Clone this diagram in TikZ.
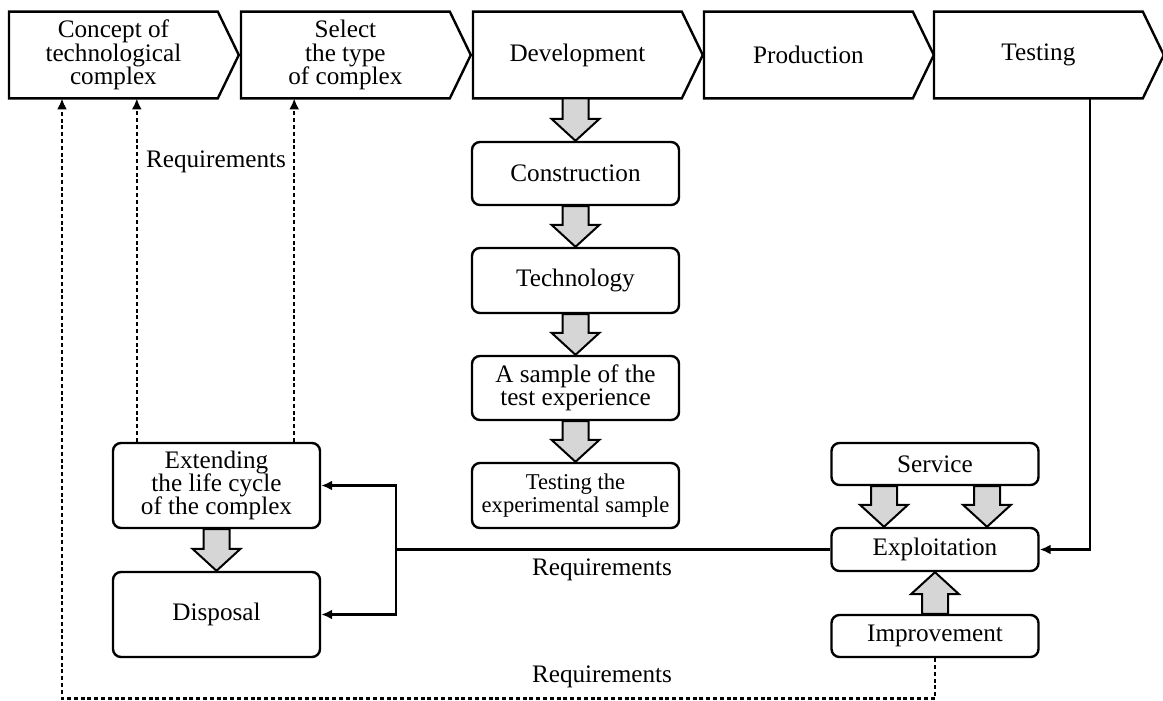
\documentclass[tikz,border=0pt]{standalone}
\usepackage{fontspec}
\setmainfont{Liberation Serif}
\usetikzlibrary{arrows.meta,calc}
\definecolor{fatgrey}{HTML}{D6D6D6}
\newcommand{\bodyfont}{\fontsize{12.6}{11.6}\selectfont}
% wide grey arrow from #1 to #2 (vertical)
\newcommand{\fatarrow}[2]{%
  \draw[fat] let \p1=(#1), \p2=(#2), \n1={ifthenelse(\y2<\y1,11,-11)} in
    (\x1-6.5pt,\y1) -- (\x1-6.5pt,\y2+\n1) -- (\x1-12pt,\y2+\n1) -- (\x1,\y2)
    -- (\x1+12pt,\y2+\n1) -- (\x1+6.5pt,\y2+\n1) -- (\x1+6.5pt,\y1) -- cycle;}

\begin{document}
\begin{tikzpicture}[x=0.5pt, y=-0.5pt, font=\bodyfont,
  stage/.style={minimum width=104pt, minimum height=43pt, inner sep=0pt, align=center},
  outline/.style={draw, line width=1.2pt, line join=miter},
  proc/.style={draw, line width=1.2pt, rounded corners=4pt, align=center,
               minimum width=103.5pt, inner sep=2pt},
  fat/.style={draw, fill=fatgrey, line width=1pt, line join=miter},
  conn/.style={-{Latex[length=5.5pt,width=5pt]}, line width=1.1pt},
  req/.style={conn, dash pattern=on 2pt off 1.4pt},
  wire/.style={line width=1.1pt},
]
\useasboundingbox (0,0) rectangle (1163,701);

% stages along the top
\foreach \nm/\lx/\txt in {c1/9/{Concept of\\technological\\complex},
                          c2/241/{Select\\the type\\of complex},
                          c3/473/Development, c4/704/Production, c5/934/Testing} {
  \node[stage, anchor=west] (\nm) at (\lx,55) {\txt};
  \draw[outline] (\nm.north west) -- (\nm.north east) -- ($(\nm.east)+(21,0)$)
    -- (\nm.south east) -- (\nm.south west) -- cycle;
}

% development chain
\node[proc, minimum height=31.5pt] (cons) at (575.5,173.5) {Construction};
\node[proc, minimum height=32.5pt] (tech) at (575.5,280.5) {Technology};
\node[proc, minimum height=32pt] (samp) at (575.5,388) {A sample of the\\test experience};
\node[proc, minimum height=32.5pt, font=\fontsize{11.3}{11.6}\selectfont] (tsamp) at (575.5,495.5)
   {Testing the\\experimental sample};

% life cycle end
\node[proc, minimum height=42.5pt] (ext) at (216.5,485.5) {Extending\\the life cycle\\of the complex};
\node[proc, minimum height=42.5pt] (disp) at (216.5,614.5) {Disposal};

% operation
\node[proc, minimum height=21pt] (serv) at (935,464) {Service};
\node[proc, minimum height=21.5pt] (expl) at (935,549.5) {Exploitation};
\node[proc, minimum height=21pt] (impr) at (935,636) {Improvement};

\fatarrow{c3.south -| cons.north}{cons.north}
\fatarrow{cons.south}{tech.north}
\fatarrow{tech.south}{samp.north}
\fatarrow{samp.south}{tsamp.north}
\fatarrow{ext.south}{disp.north}
\fatarrow{$(serv.south)+(-51,0)$}{$(expl.north)+(-51,0)$}
\fatarrow{$(serv.south)+(52,0)$}{$(expl.north)+(52,0)$}
\fatarrow{impr.north}{expl.south}

% solid feedback
\draw[conn] ($(c5.south east)+(-53,0)$) |- (expl.east);
\coordinate (split) at (396,549.5);
\draw[wire] (expl.west) -- (split);
\draw[conn] (split) |- (ext.east);
\draw[conn] (split) |- (disp.east);
\node (req1) at (602,570) {Requirements};

% dotted requirements
\coordinate (q1) at ($(ext.north west)+(25,0)$);
\coordinate (q2) at ($(ext.north east)+(-27,0)$);
\draw[req] (q1) -- (q1 |- c1.south);
\draw[req] (q2) -- (q2 |- c2.south);
\node (req0) at (216,162) {Requirements};
\coordinate (back) at (62,698.5);
\draw[req] (impr.south) |- (back) -- (back |- c1.south);
\node (req2) at (602,677) {Requirements};
\end{tikzpicture}
\end{document}
